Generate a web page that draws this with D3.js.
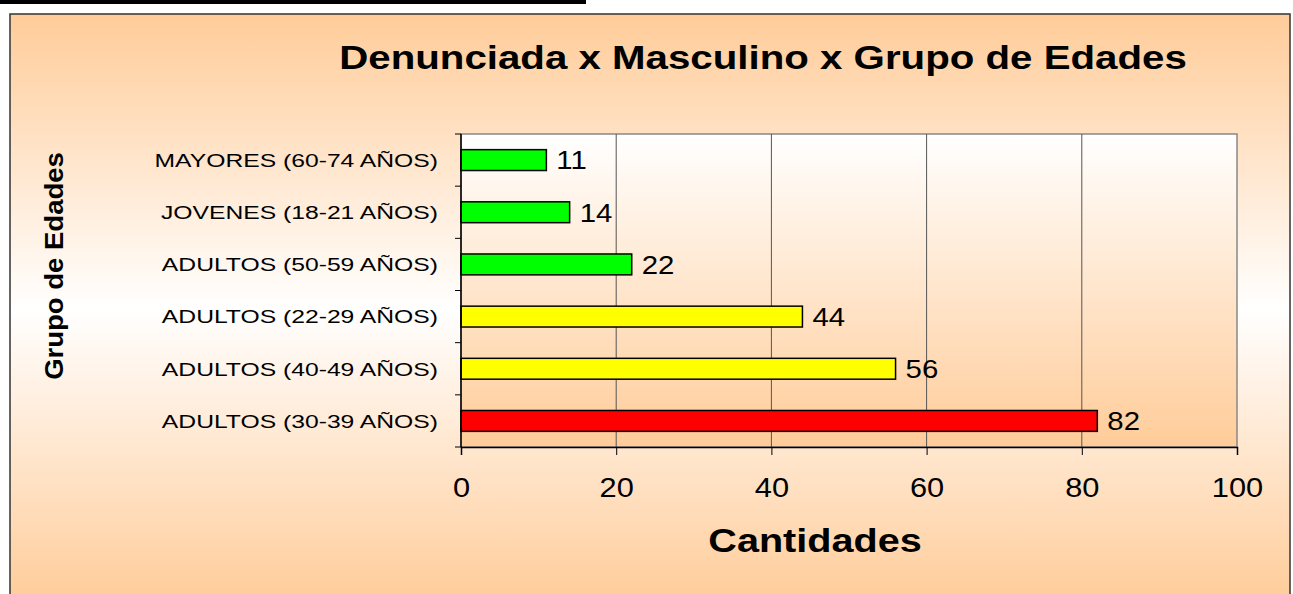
<!DOCTYPE html>
<html>
<head>
<meta charset="utf-8">
<script src="https://cdn.jsdelivr.net/npm/d3@7"></script>
<style>
  body { margin: 0; background: #fff; }
  svg { display: block; font-family: "Liberation Sans", Arial, sans-serif; }
</style>
</head>
<body>
<script>
var categories = ["MAYORES (60-74 AÑOS)", "JOVENES (18-21 AÑOS)", "ADULTOS (50-59 AÑOS)",
                  "ADULTOS (22-29 AÑOS)", "ADULTOS (40-49 AÑOS)", "ADULTOS (30-39 AÑOS)"];
var values = [11, 14, 22, 44, 56, 82];
var colors = ["#00ff00", "#00ff00", "#00ff00", "#ffff00", "#ffff00", "#ff0000"];
var xTicks = [0, 20, 40, 60, 80, 100];

var W = 1293, H = 594;
var plot = {left: 461, top: 134, right: 1237, bottom: 447};

var svg = d3.select("body").append("svg")
  .attr("width", W)
  .attr("height", H);

var defs = svg.append("defs");
var outerGrad = defs.append("linearGradient")
  .attr("id", "outerGrad").attr("x1", 0).attr("y1", 0).attr("x2", 0).attr("y2", 1);
outerGrad.append("stop").attr("offset", "0%").attr("stop-color", "#ffcc99");
outerGrad.append("stop").attr("offset", "50%").attr("stop-color", "#ffffff");
outerGrad.append("stop").attr("offset", "100%").attr("stop-color", "#ffcc99");

var plotGrad = defs.append("linearGradient")
  .attr("id", "plotGrad").attr("x1", 0).attr("y1", 0).attr("x2", 0).attr("y2", 1);
plotGrad.append("stop").attr("offset", "0%").attr("stop-color", "#ffffff");
plotGrad.append("stop").attr("offset", "100%").attr("stop-color", "#ffcc99");

// the text in the original is drawn a bit wide, so stretch it horizontally
function wide(sel, px, py, sx) {
  return sel.attr("transform", "translate(" + px + "," + py + ") scale(" + sx + ",1)");
}

// stray black line at top
svg.append("rect").attr("x", 0).attr("y", 0).attr("width", 586).attr("height", 4).attr("fill", "#000");

// chart area
svg.append("rect")
  .attr("x", 10).attr("y", 14).attr("width", 1280).attr("height", 590)
  .attr("fill", "url(#outerGrad)")
  .attr("stroke", "#333").attr("stroke-width", 1.5);

// plot area
svg.append("rect")
  .attr("x", plot.left).attr("y", plot.top)
  .attr("width", plot.right - plot.left).attr("height", plot.bottom - plot.top)
  .attr("fill", "url(#plotGrad)")
  .attr("stroke", "#888").attr("stroke-width", 1.5);

var x = d3.scaleLinear().domain([0, 100]).range([plot.left, plot.right]);
var y = d3.scaleBand().domain(categories).range([plot.top, plot.bottom]).paddingInner(0.6).paddingOuter(0.3);

// gridlines
svg.append("g")
  .selectAll("line")
  .data(xTicks.slice(1, -1))
  .enter().append("line")
  .attr("x1", function(d) { return x(d); })
  .attr("x2", function(d) { return x(d); })
  .attr("y1", plot.top).attr("y2", plot.bottom)
  .attr("stroke", "#555").attr("stroke-width", 1);

// bars
svg.append("g")
  .selectAll("rect")
  .data(categories)
  .enter().append("rect")
  .attr("x", x(0))
  .attr("y", function(d) { return y(d); })
  .attr("width", function(d, i) { return x(values[i]) - x(0); })
  .attr("height", y.bandwidth())
  .attr("fill", function(d, i) { return colors[i]; })
  .attr("stroke", "#000").attr("stroke-width", 1.5);

// value labels
svg.append("g")
  .selectAll("text")
  .data(categories)
  .enter().append("text")
  .each(function(d, i) {
    wide(d3.select(this), x(values[i]) + 10, y(d) + y.bandwidth() / 2, 1.13);
  })
  .attr("dy", "0.36em")
  .attr("font-size", 26)
  .text(function(d, i) { return values[i]; });

// x axis
var xAxis = svg.append("g")
  .attr("transform", "translate(0," + plot.bottom + ")")
  .call(d3.axisBottom(x).tickValues(xTicks).tickSize(8).tickPadding(0));
xAxis.select(".domain").attr("stroke", "#000").attr("stroke-width", 1.5);
xAxis.selectAll(".tick line").attr("stroke", "#000");
xAxis.selectAll(".tick text").attr("font-size", 28).attr("fill", "#000")
  .attr("font-family", "Liberation Sans, Arial, sans-serif")
  .attr("y", 0).attr("dy", 0)
  .attr("transform", "translate(0,50) scale(1.1,1)");

// y axis: ticks between categories
var yAxis = svg.append("g")
  .attr("transform", "translate(" + plot.left + ",0)");
yAxis.append("line")
  .attr("x1", 0).attr("x2", 0).attr("y1", plot.top).attr("y2", plot.bottom)
  .attr("stroke", "#000").attr("stroke-width", 1.5);
var step = (plot.bottom - plot.top) / categories.length;
yAxis.selectAll(".ytick")
  .data(d3.range(categories.length + 1))
  .enter().append("line")
  .attr("class", "ytick")
  .attr("x1", -6).attr("x2", 0)
  .attr("y1", function(i) { return plot.top + i * step; })
  .attr("y2", function(i) { return plot.top + i * step; })
  .attr("stroke", "#000");
yAxis.selectAll(".ylabel")
  .data(categories)
  .enter().append("text")
  .attr("class", "ylabel")
  .each(function(d) {
    wide(d3.select(this), -23, y(d) + y.bandwidth() / 2, 1.3);
  })
  .attr("dy", "0.36em")
  .attr("text-anchor", "end")
  .attr("font-size", 19)
  .text(function(d) { return d; });

// titles
wide(svg.append("text"), 763, 69, 1.22)
  .attr("text-anchor", "middle")
  .attr("font-size", 33).attr("font-weight", "bold")
  .text("Denunciada x Masculino x Grupo de Edades");

wide(svg.append("text"), 815, 552, 1.2)
  .attr("text-anchor", "middle")
  .attr("font-size", 33).attr("font-weight", "bold")
  .text("Cantidades");

svg.append("text")
  .attr("transform", "translate(63,266) rotate(-90) scale(1.1,1)")
  .attr("text-anchor", "middle")
  .attr("font-size", 25).attr("font-weight", "bold")
  .text("Grupo de Edades");
</script>
</body>
</html>
